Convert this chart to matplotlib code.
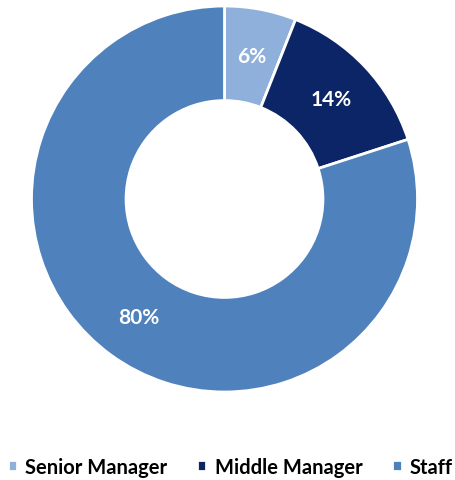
import matplotlib
matplotlib.use("Agg")
import matplotlib.pyplot as plt

categories = ["Senior Manager", "Middle Manager", "Staff"]
values = [6, 14, 80]
colors = ["#8eb0da", "#0b2566", "#4f81bd"]

plt.rcParams['font.family'] = ['Lato', 'DejaVu Sans']

fig = plt.figure(figsize=(4.56, 4.81), dpi=100)
cx, cy, r = 224.5, 200, 193
ax = fig.add_axes([(cx - r)/456, 1-(cy + r)/481, 2*r/456, 2*r/481])
wedges, texts, autotexts = ax.pie(
    values, colors=colors, startangle=90, counterclock=False,
    radius=1.0, pctdistance=0.755,
    autopct=lambda p: f"{p:.0f}%",
    wedgeprops=dict(width=0.49, edgecolor="white", linewidth=2),
    textprops=dict(color="white", fontsize=15, fontweight="bold"))
ax.set_xlim(-1, 1)
ax.set_ylim(-1, 1)
ax.set_aspect("equal")

fig.legend(wedges, categories, loc="center", bbox_to_anchor=(0.505, 1-468/481),
           ncol=3, frameon=False, handlelength=0.45, handleheight=0.45,
           handletextpad=0.4, columnspacing=1.5,
           prop=dict(family=['Lato', 'DejaVu Sans'], weight='bold', size=14.5))

fig.savefig("out.png", dpi=100)
